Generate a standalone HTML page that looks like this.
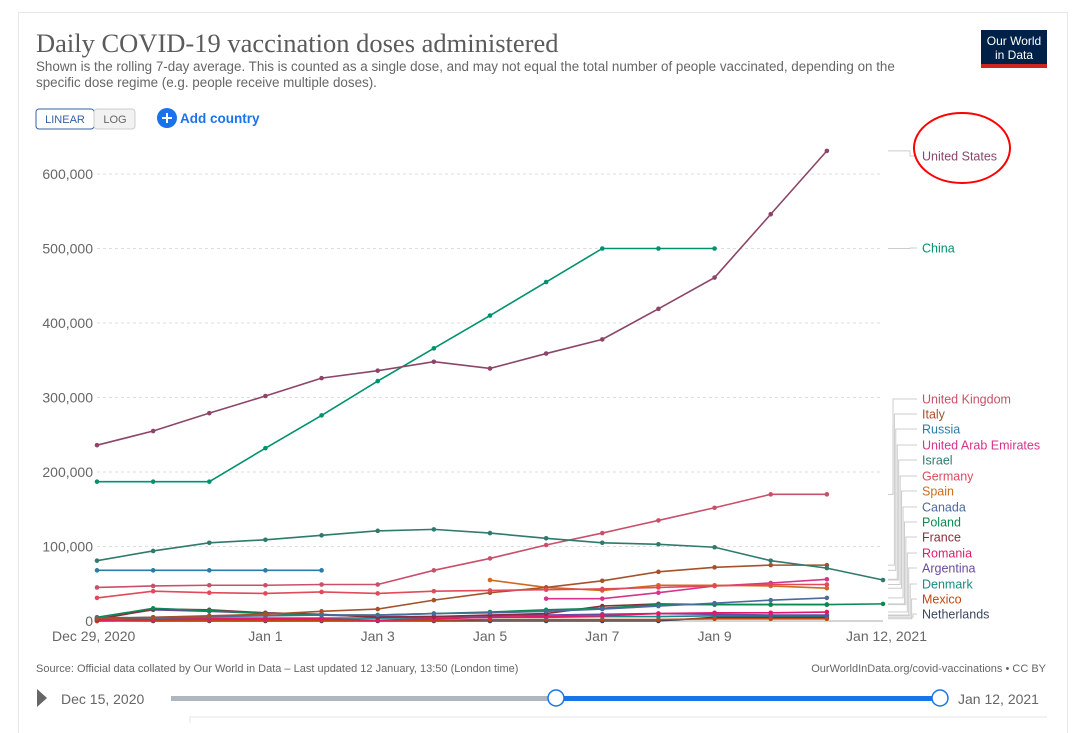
<!DOCTYPE html>
<html><head><meta charset="utf-8">
<style>
body{margin:0;background:#fff;width:1079px;height:723px;overflow:hidden;font-family:"Liberation Sans",sans-serif;}
#frame{position:absolute;left:18px;top:12px;width:1048px;height:720px;border:1px solid #e8e8e8;border-bottom:none;}
svg{position:absolute;left:0;top:0}
</style></head><body>
<div id="frame"></div>
<svg id="c" width="1079" height="723" xmlns="http://www.w3.org/2000/svg">
<text x="36" y="52" font-family="Liberation Serif, serif" font-size="26.5" fill="#5b5b5b">Daily COVID-19 vaccination doses administered</text>
<text x="36" y="71" font-size="13.4" fill="#666">Shown is the rolling 7-day average. This is counted as a single dose, and may not equal the total number of people vaccinated, depending on the</text>
<text x="36" y="87" font-size="13.4" fill="#666">specific dose regime (e.g. people receive multiple doses).</text>
<g><rect x="981" y="30" width="66" height="38" fill="#002147"/><rect x="981" y="64" width="66" height="4" fill="#ce261e"/>
<text x="1014" y="45" font-size="12" fill="#fff" text-anchor="middle">Our World</text><text x="1014" y="59" font-size="12" fill="#fff" text-anchor="middle">in Data</text></g>
<g><rect x="36" y="109" width="58" height="20" rx="3" fill="#fff" stroke="#3360a9"/><text x="65" y="123" font-size="11" fill="#3360a9" text-anchor="middle">LINEAR</text></g>
<g><rect x="94" y="109" width="41" height="20" rx="3" fill="#f2f2f2" stroke="#ccc"/><text x="115" y="123" font-size="11" fill="#666" text-anchor="middle">LOG</text></g>
<g><circle cx="167" cy="118" r="10" fill="#1a73e8"/><path d="M162 118h10M167 113v10" stroke="#fff" stroke-width="2"/><text x="180" y="123" font-size="13.5" font-weight="bold" fill="#1a73e8">Add country</text></g>
<g id="grid"></g><g id="series"></g><g id="legend"></g>
<ellipse cx="962" cy="148" rx="48" ry="35" fill="none" stroke="#f00" stroke-width="2"/>
<text x="36" y="672" font-size="11" fill="#666">Source: Official data collated by Our World in Data – Last updated 12 January, 13:50 (London time)</text>
<text x="1046" y="672" font-size="11" fill="#666" text-anchor="end">OurWorldInData.org/covid-vaccinations • CC BY</text>
<path d="M37 689l10 9l-10 9z" fill="#666"/>
<text x="61" y="704" font-size="14" fill="#666">Dec 15, 2020</text>
<rect x="171" y="696" width="385" height="5" fill="#b0b6bd"/>
<rect x="556" y="696" width="384" height="5" fill="#1a73e8"/>
<circle cx="556" cy="698" r="8" fill="#fff" stroke="#1a73e8" stroke-width="1.5"/>
<circle cx="940" cy="698" r="8" fill="#fff" stroke="#1a73e8" stroke-width="1.5"/>
<text x="958" y="704" font-size="14" fill="#666">Jan 12, 2021</text>
<path d="M190 723V717H1047" fill="none" stroke="#e4e4e4"/>
</svg>
<script>
const yTicks=[0,100000,200000,300000,400000,500000,600000];
const xTickDays=[0,3,5,7,9,11,14];
const xTickLabels=["Dec 29, 2020","Jan 1","Jan 3","Jan 5","Jan 7","Jan 9","Jan 12, 2021"];
const countries=["United States","China","Israel","Russia","United Kingdom","Germany","Italy","Spain","United Arab Emirates","Canada","Poland","France","Romania","Argentina","Denmark","Mexico","Netherlands"];
const colors=["#8c4569","#00916e","#2f7a6c","#2a7ba8","#c9506a","#e04a5a","#a5522c","#cf6a1e","#d6338a","#4c6a9c","#0a8a50","#8a2d3b","#e01a6a","#6a4aa0","#198a8a","#c0470f","#3a4660"];
const starts=[0,0,0,0,0,0,0,7,8,0,0,0,0,0,0,0,0];
const values=[
[236,255,279,302,326,336,348,339,359,378,419,461,546,631],
[187,187,187,232,276,322,366,410,455,500,500,500],
[81,94,105,109,115,121,123,118,111,105,103,99,81,71,55],
[68,68,68,68,68],
[45,47,48,48,49,49,68,84,102,118,135,152,170,170],
[31,40,38,37,39,37,40,41,42,43,45,47,49,49],
[3,5,7,9,13,16,28,38,45,54,66,72,75,75],
[55,45,41,48,48,47,44],
[30,30,38,47,51,56],
[4,5,6,7,8,8,10,11,13,16,20,24,28,31],
[5,17,14,10,8,8,10,12,15,17,22,22,22,22,23],
[2,16,15,11,9,5,6,8,10,20,23,22,22,22],
[1,2,3,3,3,1,3,5,6,7,10,11,11,12],
[3,15,13,10,8,6,6,7,8,9,10,9,8,8],
[3,4,4,4,4,4,4,5,5,6,6,7,7,7],
[0,1,1,1,1,1,1,2,2,2,2,3,3,3],
[0,0,0,0,0,0,0,0,0,0,0,5,5,5]
];
const labelYs=[156,248,460,429,399,476,414,491,445,507,522,537,553,568,584,599,614];
const X=d=>97+d*(883-97)/14, Y=v=>621-v*(621-174)/600000;
const NS="http://www.w3.org/2000/svg";
function mk(t,a,p){const e=document.createElementNS(NS,t);for(const k in a)e.setAttribute(k,a[k]);p.appendChild(e);return e;}
const grid=document.getElementById('grid');
yTicks.forEach(v=>{
  const l=mk('line',{x1:97,x2:883,y1:Y(v),y2:Y(v),stroke:v?'#ddd':'#aaa','stroke-dasharray':v?'3,3':''},grid);
  
  
  const t=mk('text',{x:93,y:Y(v)+5,'font-size':14,fill:'#666','text-anchor':'end'},grid);t.textContent=v.toLocaleString('en-US');
  
  
});
xTickDays.forEach((d,i)=>{
  const t=mk('text',{x:X(d),y:641,'font-size':14,fill:'#666','text-anchor':i==0?'start':(i==xTickDays.length-1?'end':'middle')},grid);
  if(i==0)t.setAttribute('x',52);if(i==xTickDays.length-1)t.setAttribute('x',927);
  t.textContent=xTickLabels[i];
  
  
});
const ser=document.getElementById('series'),leg=document.getElementById('legend');
for(let i=countries.length-1;i>=0;i--){
  const g=mk('g',{},ser);
  
  
  const pts=values[i].map((v,j)=>[X(starts[i]+j),Y(v*1000)]);
  mk('polyline',{points:pts.map(p=>p.join(',')).join(' '),fill:'none',stroke:colors[i],'stroke-width':1.6},g);
  pts.forEach(p=>{const c=mk('circle',{cx:p[0],cy:p[1],r:2.3,fill:colors[i]},g);
    
    });
  const ly=labelYs[i], ey=pts[pts.length-1][1];
  const vx=i<2?910:893+ (labelYs[i]-399)/215*20;
  mk('path',{d:`M888 ${ey}H${vx}V${ly}H917`,fill:'none',stroke:'#ccc','stroke-width':1},leg);
  const t=mk('text',{x:922,y:ly+4.5,'font-size':12.5,fill:colors[i]},leg);t.textContent=countries[i];
  
  
}
</script>
</body></html>
